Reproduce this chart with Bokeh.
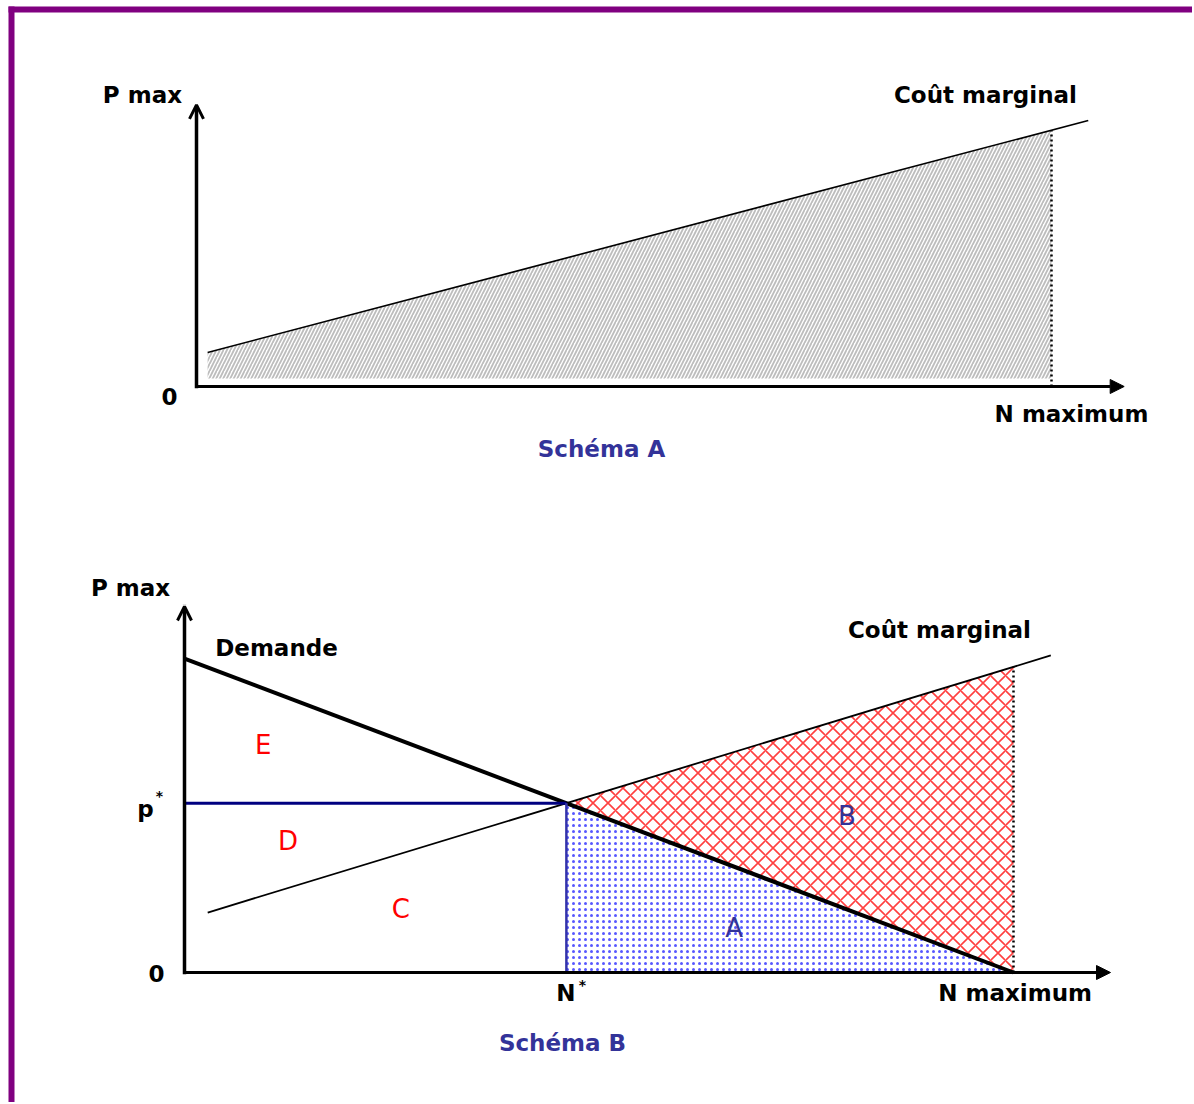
import numpy as np
from bokeh.plotting import figure
from bokeh.models import Range1d, Arrow, OpenHead, NormalHead, ColumnDataSource, BoxAnnotation
from bokeh.core.properties import value
from bokeh.embed import file_html
from bokeh.resources import INLINE

# ---------------- Schéma A (conceptual units, N maximum = 10) ----------------
a_nmax = 10.0
a_mc_n = [0.13, 10.43]          # marginal cost line, N extent
a_mc_p = [1.33, 10.39]          # marginal cost line, price
a_shade_floor = 0.31
a_axis_n_end = 10.85
a_axis_p_end = 11.0

# ---------------- Schéma B ----------------
b_nmax = 10.0
b_dem_n = [0.0, 10.0]           # demand line
b_dem_p = [10.26, 0.0]
b_mc_n = [0.28, 10.45]          # marginal cost line
b_mc_p = [1.96, 10.36]
b_axis_n_end = 11.17
b_axis_p_end = 11.96

region_labels = ["E", "D", "C", "B", "A"]

# ---------------- layout geometry (page pixels) ----------------
W, H = 1192, 1102
FX0, FX1 = 0, W
FY0, FY1 = 0, H

A_O = (196, 386, 85.5, 25.6)     # origin x, origin y, px per N, px per P
B_O = (184, 972, 82.9, 30.6)


def make_ranges(ox, oy, sx, sy):
    return (Range1d((FX0 - ox) / sx, (FX1 - ox) / sx),
            Range1d((oy - FY1) / sy, (oy - FY0) / sy))


xa, ya = make_ranges(*A_O)
xb, yb = make_ranges(*B_O)

p = figure(width=W, height=H, x_range=xa, y_range=ya,
           output_backend="svg", toolbar_location=None,
           x_axis_location=None, y_axis_location=None,
           min_border_left=0, min_border_top=0,
           min_border_right=0, min_border_bottom=0,
           border_fill_color="white", background_fill_color="white",
           outline_line_color=None)
p.extra_x_ranges = {"b": xb}
p.extra_y_ranges = {"b": yb}
p.xgrid.visible = False
p.ygrid.visible = False

# purple frame (top and left edges)
def ax(px):
    return (px - A_O[0]) / A_O[2]

def ay(py):
    return (A_O[1] - py) / A_O[3]

p.add_layout(BoxAnnotation(left=ax(8), top=ay(6), bottom=ay(12),
                           fill_color="#800080", fill_alpha=1, line_color=None))
p.add_layout(BoxAnnotation(left=ax(8), right=ax(14), top=ay(6),
                           fill_color="#800080", fill_alpha=1, line_color=None))

FONT = value("DejaVu Sans")
LBL = dict(text_font=FONT, text_font_style="bold", text_font_size="23px",
           text_align="center", text_baseline="middle", text_color="black")

# ======================= Schéma A =======================
def mc_a(n):
    return np.interp(n, a_mc_n, a_mc_p)

sn = np.array([a_mc_n[0], a_nmax])
p.patch(x=[sn[0], sn[1], sn[1], sn[0]],
        y=[a_shade_floor, a_shade_floor, mc_a(sn[1]), mc_a(sn[0])],
        fill_color="white", line_color=None,
        hatch_pattern="/", hatch_color="#bdbdbd", hatch_scale=7, hatch_weight=1.8)
p.line(a_mc_n, a_mc_p, line_color="black", line_width=1.6)
p.line([a_nmax, a_nmax], [0, mc_a(a_nmax)], line_color="black",
       line_width=2.5, line_dash="2 3")

p.add_layout(Arrow(x_start=0, y_start=0, x_end=0, y_end=a_axis_p_end,
                   line_width=3.5, line_cap="square",
                   end=OpenHead(size=14, line_width=3, line_color="black")))
p.add_layout(Arrow(x_start=0, y_start=0, x_end=a_axis_n_end, y_end=0,
                   line_width=3, line_cap="square",
                   end=NormalHead(size=14, fill_color="black", line_color="black")))

a_txt = ColumnDataSource(dict(
    x=[-0.632, 9.228, -0.316, 10.234],
    y=[11.37, 11.37, -0.39, -1.09],
    t=["P max", "Coût marginal", "0", "N maximum"]))
p.text(x="x", y="y", text="t", source=a_txt, **LBL)
p.text(x=[4.737], y=[-2.46], text=["Schéma A"],
       **{**LBL, "text_color": "#333399"})

# ======================= Schéma B =======================
BR = dict(x_range_name="b", y_range_name="b")

ds = (b_dem_p[1] - b_dem_p[0]) / (b_dem_n[1] - b_dem_n[0])
d0 = b_dem_p[0] - ds * b_dem_n[0]
ms = (b_mc_p[1] - b_mc_p[0]) / (b_mc_n[1] - b_mc_n[0])
m0 = b_mc_p[0] - ms * b_mc_n[0]
n_star = (d0 - m0) / (ms - ds)
p_star = d0 + ds * n_star
mc_at_max = m0 + ms * b_nmax
n_dem_zero = -d0 / ds

# region A: blue dots
p.patch(x=[n_star, n_star, n_dem_zero], y=[p_star, 0, 0],
        fill_color="white", line_color=None,
        hatch_pattern=".", hatch_color="#3a3aff", hatch_scale=6, hatch_weight=1.2,
        hatch_alpha=0.85, **BR)
# region B: red crosshatch
p.patch(x=[n_star, b_nmax, b_nmax], y=[p_star, mc_at_max, 0],
        fill_color="white", line_color=None,
        hatch_pattern="x", hatch_color="#ff4040", hatch_scale=15, hatch_weight=1.6, **BR)

p.line(b_mc_n, b_mc_p, line_color="black", line_width=1.8, **BR)
p.line(b_dem_n, b_dem_p, line_color="black", line_width=4, **BR)
p.line([0, n_star], [p_star, p_star], line_color="#000080", line_width=3, **BR)
p.line([n_star, n_star], [0, p_star], line_color="#3333aa", line_width=2.5, **BR)
p.line([b_nmax, b_nmax], [0, mc_at_max], line_color="black",
       line_width=2.5, line_dash="2 3", **BR)

p.add_layout(Arrow(x_start=0, y_start=0, x_end=0, y_end=b_axis_p_end,
                   line_width=3.5, line_cap="square",
                   end=OpenHead(size=14, line_width=3, line_color="black"), **BR))
p.add_layout(Arrow(x_start=0, y_start=0, x_end=b_axis_n_end, y_end=0,
                   line_width=3, line_cap="square",
                   end=NormalHead(size=14, fill_color="black", line_color="black"), **BR))

b_txt = ColumnDataSource(dict(
    x=[-0.651, 1.11, 9.107, -0.338, 10.02, 4.60],
    y=[12.58, 10.62, 11.18, -0.03, -0.654, -0.654],
    t=["P max", "Demande", "Coût marginal", "0", "N maximum", "N"]))
p.text(x="x", y="y", text="t", source=b_txt, **LBL, **BR)
p.text(x=[-0.47], y=[5.33], text=["p"],
       **{**LBL, "text_baseline": "alphabetic"}, **BR)
p.text(x=[-0.302, 4.80], y=[5.78, -0.42], text=["*", "*"],
       **{**LBL, "text_font_size": "14px"}, **BR)
p.text(x=[4.56], y=[-2.32], text=["Schéma B"],
       **{**LBL, "text_color": "#333399"}, **BR)

reg = ColumnDataSource(dict(
    x=[0.95, 1.25, 2.61, 7.99, 6.63],
    y=[7.42, 4.31, 2.06, 5.13, 1.47],
    t=region_labels,
    c=["#ff0000", "#ff0000", "#ff0000", "#333399", "#333399"]))
p.text(x="x", y="y", text="t", source=reg, text_color="c",
       text_font=FONT, text_font_size="26px", text_align="center",
       text_baseline="middle", **BR)

open("out.html", "w").write(file_html(p, INLINE))
